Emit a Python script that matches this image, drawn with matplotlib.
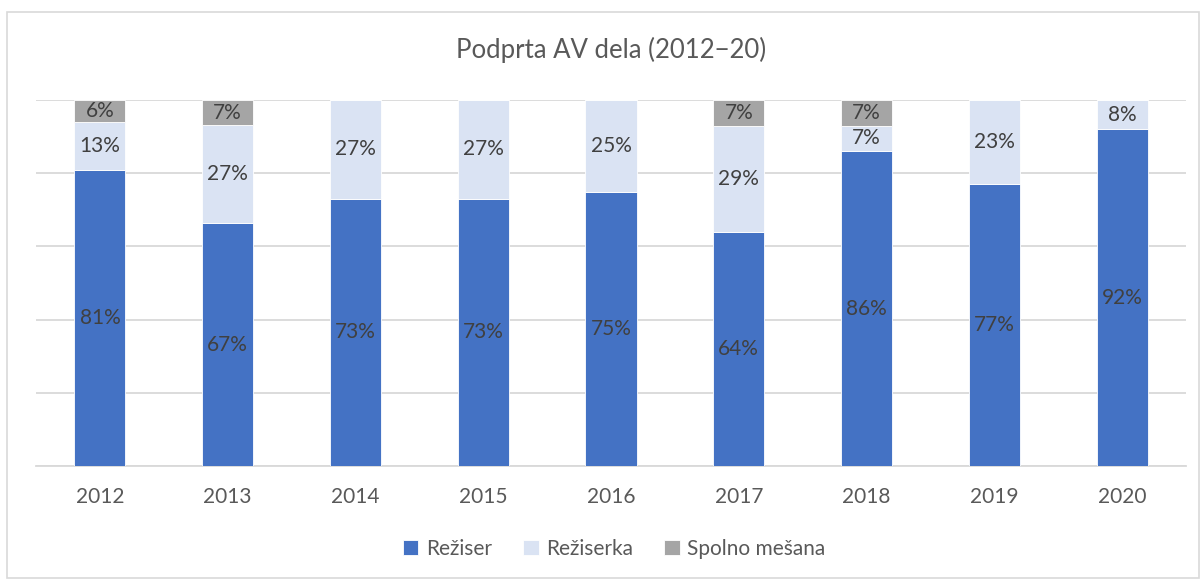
import numpy as np
import matplotlib
matplotlib.use('Agg')
import matplotlib.pyplot as plt
from matplotlib.patches import Rectangle

plt.rcParams['font.family'] = ['Lato', 'DejaVu Sans']

years = ['2012', '2013', '2014', '2015', '2016', '2017', '2018', '2019', '2020']
reziser = [81, 67, 73, 73, 75, 64, 86, 77, 92]
reziserka = [13, 27, 27, 27, 25, 29, 7, 23, 8]
mesana = [6, 7, 0, 0, 0, 7, 7, 0, 0]

series = [('Režiser', reziser, '#4472c4'),
          ('Režiserka', reziserka, '#dae3f3'),
          ('Spolno mešana', mesana, '#a5a5a5')]

fig = plt.figure(figsize=(12.03, 5.81), dpi=100)
ax = fig.add_axes([36/1203, 115/581, 1150/1203, 366/581])

x = np.arange(len(years))
tot = np.array(reziser) + np.array(reziserka) + np.array(mesana)
bottom = np.zeros(len(years))
for name, vals, col in series:
    v = np.array(vals, dtype=float)
    h = v / tot * 100
    ax.bar(x, h, 0.4, bottom=bottom, color=col, edgecolor='white', linewidth=0.6, label=name, zorder=3)
    for i in range(len(years)):
        if vals[i] > 0:
            ax.text(x[i], bottom[i] + h[i] / 2, f'{vals[i]}%', ha='center', va='center',
                    fontsize=15, color='#404040', zorder=4)
    bottom += h

ax.set_xlim(-0.5, len(years) - 0.5)
ax.set_ylim(0, 100)
ax.set_yticks([0, 20, 40, 60, 80, 100])
ax.yaxis.grid(True, color='#d9d9d9', linewidth=1.3, zorder=0)
ax.tick_params(axis='y', left=False, labelleft=False)
ax.set_xticks(x)
ax.set_xticklabels(years, fontsize=15, color='#595959')
ax.tick_params(axis='x', length=0, pad=15)
for s in ['top', 'right', 'left']:
    ax.spines[s].set_visible(False)
ax.spines['bottom'].set_color('#d9d9d9')
ax.spines['bottom'].set_linewidth(1.3)

fig.text(611/1203, 1 - 50/581, 'Podprta AV dela (2012\u221220)', ha='center', va='center',
         fontsize=18.5, color='#595959')

leg = fig.legend(loc='center', bbox_to_anchor=(614/1203, 1 - 549/581), ncol=3, frameon=False,
                 fontsize=15, handlelength=0.75, handleheight=0.75, columnspacing=1.5,
                 handletextpad=0.35)
for t in leg.get_texts():
    t.set_color('#595959')

fig.patches.append(Rectangle((7/1203, 3/581), 1192/1203, 566/581, transform=fig.transFigure,
                             fill=False, edgecolor='#d9d9d9', linewidth=1.2))

fig.savefig('out.png', dpi=100)
